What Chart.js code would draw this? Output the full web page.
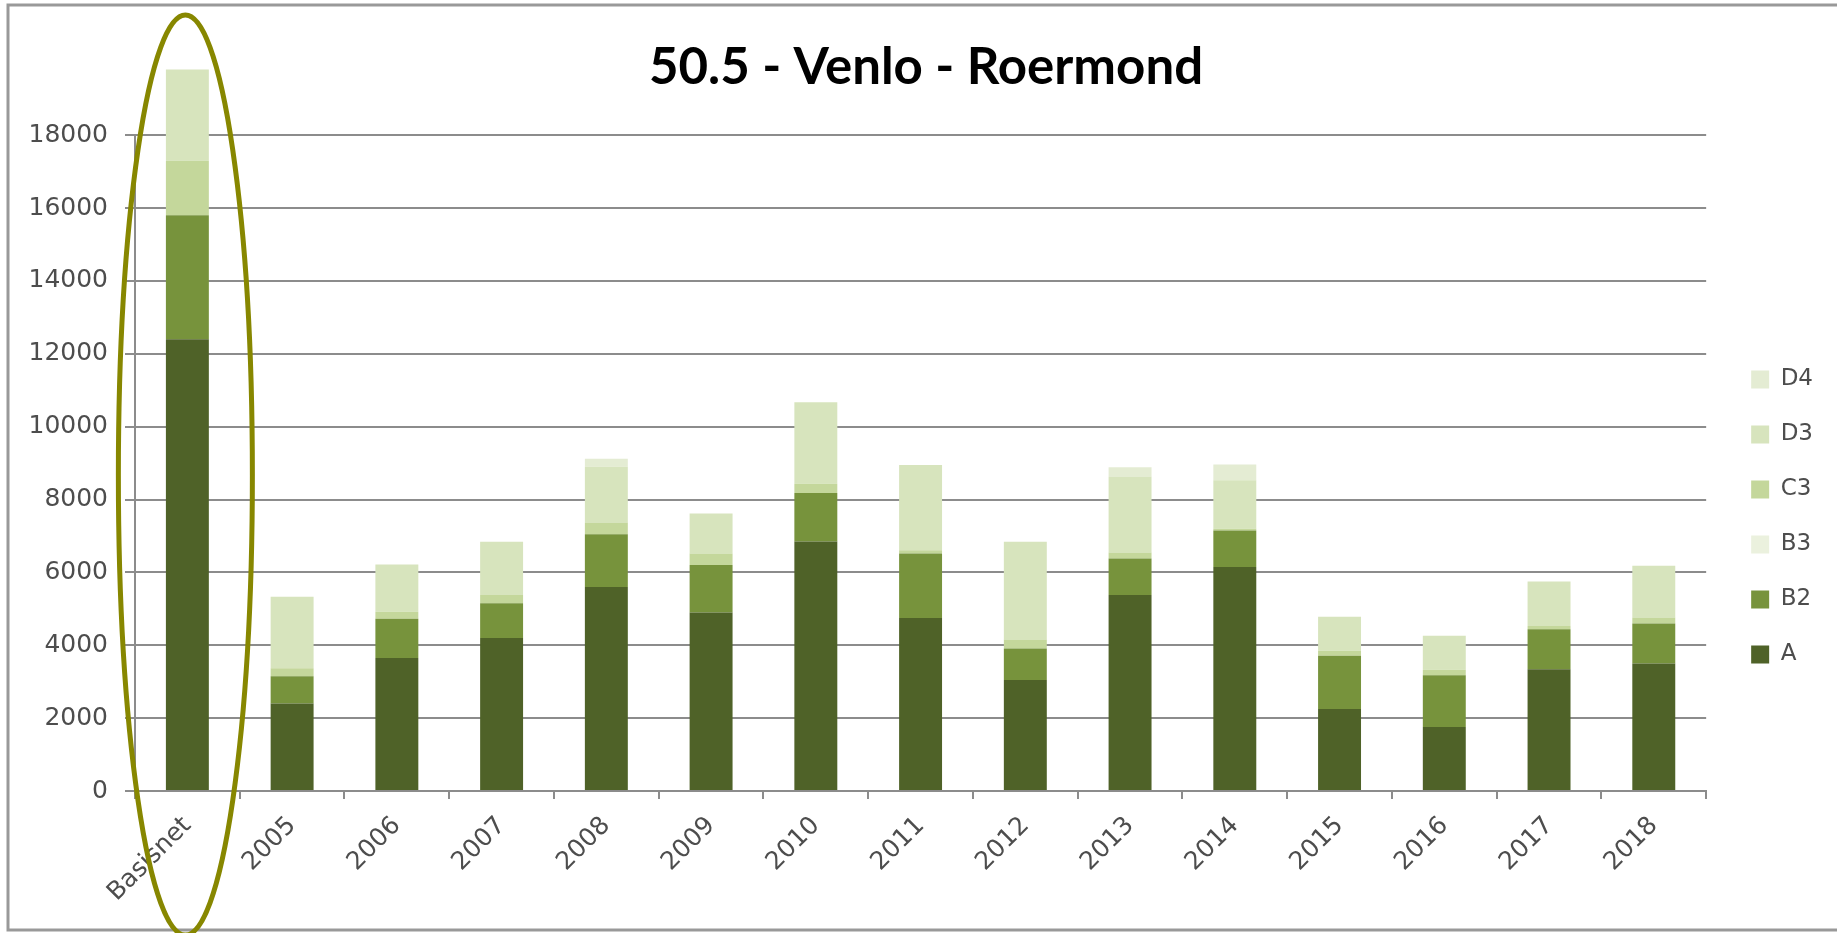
<!DOCTYPE html>
<html>
<head>
<meta charset="utf-8">
<script src="https://cdn.jsdelivr.net/npm/chart.js@4/dist/chart.umd.min.js"></script>
<style>
  body { margin: 0; background: #fff; }
  canvas { display: block; }
</style>
</head>
<body>
<canvas id="chart" width="1837" height="933"></canvas>
<script>
const chartEl = document.getElementById("chart")

// categories on the x axis
const categories = ["Basisnet", "2005", "2006", "2007", "2008", "2009", "2010", "2011", "2012", "2013", "2014", "2015", "2016", "2017", "2018"]

// series values, bottom of the stack first
const valuesA  = [12400, 2400, 3650, 4200, 5600, 4900, 6850, 4750, 3050, 5380, 6150, 2250, 1760, 3340, 3500]
const valuesB2 = [3400, 750, 1080, 950, 1450, 1300, 1330, 1770, 860, 1000, 1000, 1460, 1420, 1100, 1100]
const valuesB3 = [0, 0, 0, 0, 0, 0, 0, 0, 0, 0, 0, 0, 0, 0, 0]
const valuesC3 = [1500, 220, 190, 230, 320, 320, 250, 90, 250, 165, 50, 140, 150, 90, 160]
const valuesD3 = [2500, 1960, 1300, 1460, 1530, 1100, 2240, 2340, 2680, 2090, 1330, 930, 930, 1220, 1420]
const valuesD4 = [0, 0, 0, 0, 220, 0, 0, 0, 0, 250, 430, 0, 0, 0, 0]

// y axis ticks
const yTicks = [0, 2000, 4000, 6000, 8000, 10000, 12000, 14000, 16000, 18000]

const seriesNames = ["A", "B2", "B3", "C3", "D3", "D4"]
const seriesValues = [valuesA, valuesB2, valuesB3, valuesC3, valuesD3, valuesD4]
const seriesColors = ["#4f6228", "#77933c", "#ebf1de", "#c4d79b", "#d7e4bd", "#e4ecd3"]

const gridColor = "#8c8c8c"
const textColor = "#4d4d4d"

// frame around the chart + the olive ring round Basisnet
const decorations = {
    id: "decorations",
    afterLayout(chart) {
        // nudge legend and title a little to the right
        chart.legend.left += 13
        chart.legend.right += 13
        chart.titleBlock.left += 6
        chart.titleBlock.right += 6
    },
    beforeDraw(chart) {
        const ctx = chart.ctx
        ctx.save()
        ctx.fillStyle = "#ffffff"
        ctx.fillRect(0, 0, chart.width, chart.height)
        ctx.restore()
    },
    afterDraw(chart) {
        const ctx = chart.ctx
        const area = chart.chartArea
        ctx.save()
        ctx.strokeStyle = "#999999"
        ctx.lineWidth = 3
        ctx.beginPath()
        ctx.moveTo(chart.width, 5)
        ctx.lineTo(8, 5)
        ctx.lineTo(8, 930)
        ctx.lineTo(chart.width, 930)
        ctx.stroke()

        // ring around the first category
        const cx = chart.scales.x.getPixelForValue(0) - 2
        const cy = (area.top + area.bottom) / 2 + 12
        ctx.strokeStyle = "#878700"
        ctx.lineWidth = 5
        ctx.beginPath()
        ctx.ellipse(cx, cy, 67, 460, 0, 0, Math.PI * 2)
        ctx.stroke()
        ctx.restore()
    }
}

let myChart = new Chart(chartEl, {
    type: "bar",
    plugins: [decorations],
    data: {
        labels: categories,
        datasets: seriesNames.map((name, i) => ({
            label: name,
            data: seriesValues[i],
            backgroundColor: seriesColors[i],
            borderWidth: 0,
            barPercentage: 0.41,
            categoryPercentage: 1,
            clip: false
        }))
    },
    options: {
        responsive: false,
        animation: false,
        layout: {
            padding: { left: 30, right: 27, top: 5, bottom: 0 }
        },
        plugins: {
            tooltip: { enabled: false },
            title: {
                display: true,
                text: "50.5 - Venlo - Roermond",
                color: "#000000",
                font: { family: "Lato", size: 51, weight: "bold" },
                padding: { top: 32, bottom: 37 }
            },
            legend: {
                position: "right",
                reverse: true,
                // empty title only pushes the items down
                title: { display: true, text: "", font: { size: 10 }, padding: { top: 84, bottom: 0 } },
                labels: {
                    boxWidth: 18,
                    boxHeight: 18,
                    padding: 32,
                    color: textColor,
                    font: { family: "DejaVu Sans", size: 23 }
                }
            }
        },
        scales: {
            x: {
                stacked: true,
                afterFit(scale) {
                    // keep the plot where the reference has it
                    scale.height = 142
                    scale.paddingLeft = 0
                    scale.paddingRight = 0
                },
                grid: {
                    display: true,
                    drawOnChartArea: false,
                    drawTicks: true,
                    tickLength: 8,
                    offset: true,
                    color: gridColor,
                    lineWidth: 2
                },
                border: { color: gridColor, width: 2 },
                ticks: {
                    color: textColor,
                    font: { family: "DejaVu Sans", size: 25 },
                    maxRotation: 45,
                    minRotation: 45,
                    padding: 12,
                    autoSkip: false
                }
            },
            y: {
                stacked: true,
                min: 0,
                max: 18000,
                afterBuildTicks(axis) {
                    axis.ticks = yTicks.map(v => ({ value: v }))
                },
                afterFit(scale) {
                    scale.width = 105
                },
                grid: {
                    color: gridColor,
                    lineWidth: 2,
                    tickLength: 10
                },
                border: { color: gridColor, width: 2 },
                ticks: {
                    color: textColor,
                    font: { family: "DejaVu Sans", size: 25 },
                    padding: 17,
                    callback: (value) => String(value)
                }
            }
        }
    }
})
</script>
</body>
</html>
